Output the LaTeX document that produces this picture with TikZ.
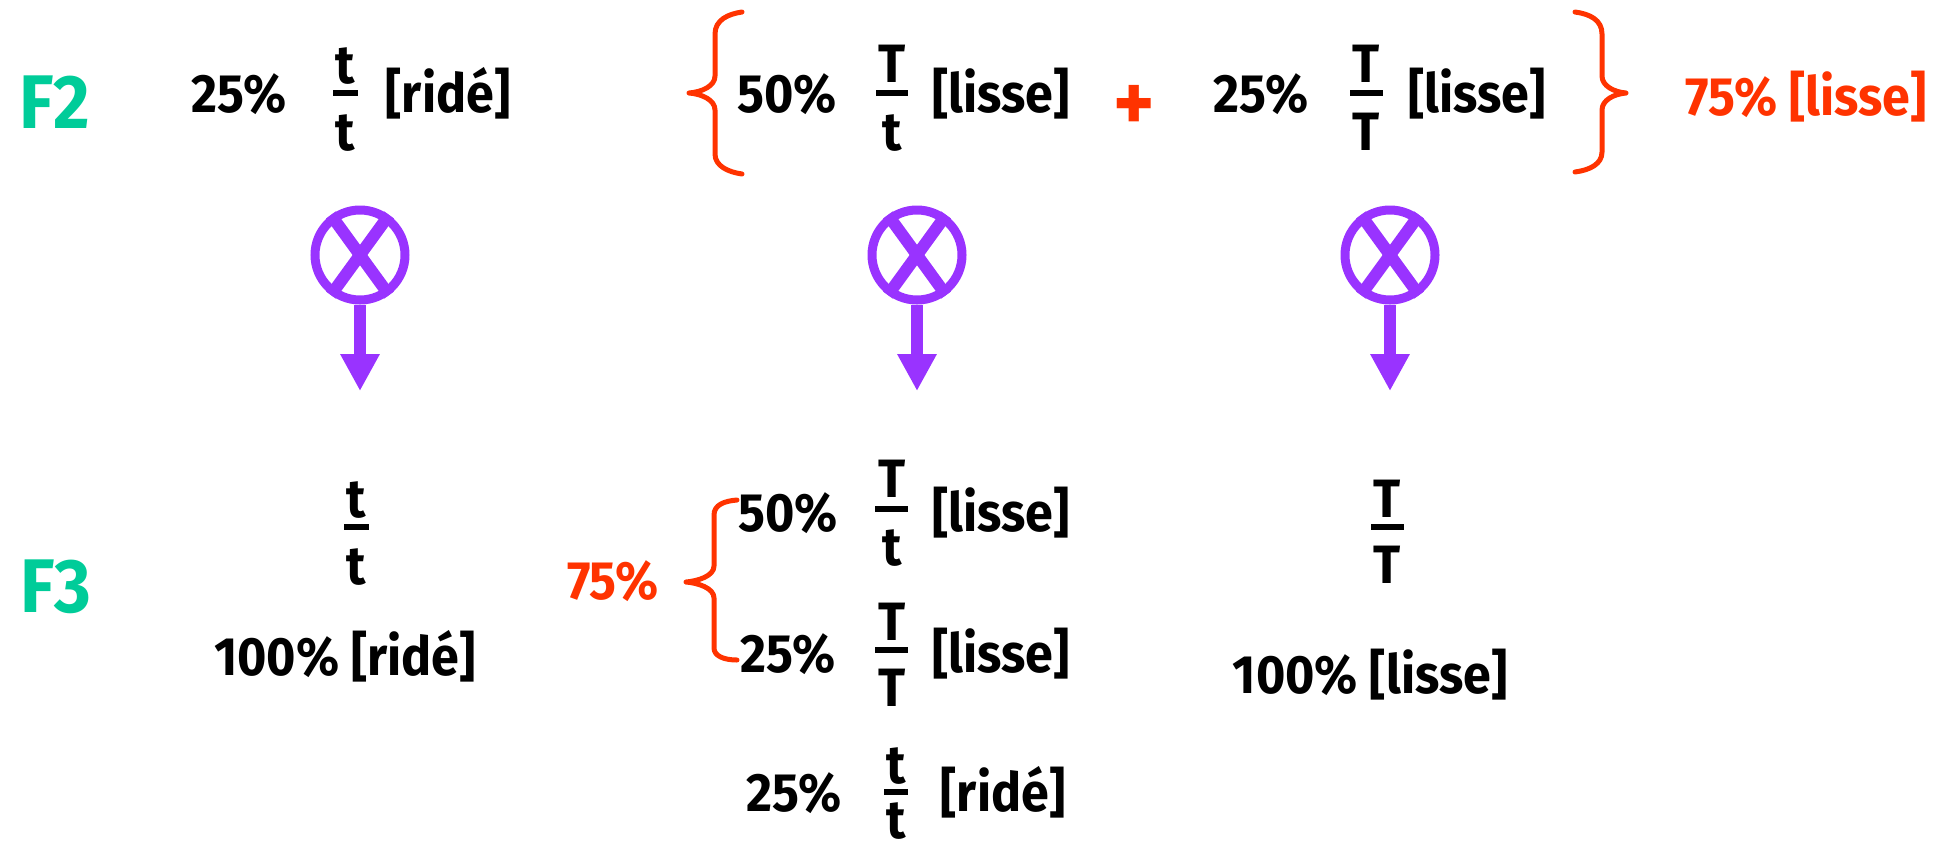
\documentclass[tikz,border=0pt]{standalone}
\usepackage{fontspec}
\setmainfont{Fira Sans}[FakeStretch=0.93]
\usetikzlibrary{arrows.meta}
\definecolor{genGreen}{HTML}{00CC99}
\definecolor{braceRed}{HTML}{FF3300}
\definecolor{crossPurple}{HTML}{9933FF}
\tikzset{
  txt/.style={font=\bfseries\fontsize{27}{30}\selectfont, inner sep=0pt, anchor=base, text=black},
  gen/.style={txt, font=\bfseries\fontsize{38}{42}\selectfont, text=genGreen},
  redtxt/.style={txt, text=braceRed},
  fracbar/.style={line width=3pt, black},
  bracepath/.style={draw=braceRed, line width=2.5pt, line cap=round, line join=round},
  crosscirc/.style={circle, draw=crossPurple, line width=4.5pt, minimum size=45pt, inner sep=0pt},
  crossline/.style={draw=crossPurple, line width=6pt},
  crossarrow/.style={draw=crossPurple, line width=6pt, -{Triangle[width=18.5pt,length=18.5pt]}, crossPurple}
}
\begin{document}
\begin{tikzpicture}[x=0.5pt,y=-0.5pt]
\useasboundingbox (0,0) rectangle (1948,848);

% ---------- F2 row ----------
\node[gen] (F2) at (55,128) {F2};

\node[txt] (p1) at (239,112) {25\%};
\node[txt] (a1t) at (345,83) {t};
\node[txt] (a1b) at (345,150) {t};
\coordinate (a1l) at (333,93); \coordinate (a1r) at (358,93);
\draw[fracbar] (a1l) -- (a1r);
\node[txt] (ph1) at (448,112) {[ridé]};

\node[txt] (p2) at (787,112) {50\%};
\node[txt] (a2t) at (892,82) {T};
\node[txt] (a2b) at (892,150) {t};
\coordinate (a2l) at (876,93); \coordinate (a2r) at (908,93);
\draw[fracbar] (a2l) -- (a2r);
\node[txt] (ph2) at (1001,112) {[lisse]};

\node[redtxt, anchor=center, font=\bfseries\fontsize{42}{46}\selectfont] (plus) at (1134,108) {+};

\node[txt] (p3) at (1261,112) {25\%};
\node[txt] (a3t) at (1366,82) {T};
\node[txt] (a3b) at (1366,150) {T};
\coordinate (a3l) at (1350,93); \coordinate (a3r) at (1383,93);
\draw[fracbar] (a3l) -- (a3r);
\node[txt] (ph3) at (1477,112) {[lisse]};

\node[redtxt] (tot2) at (1806,115) {75\% [lisse]};

% braces of F2 row
\draw[bracepath] (742,12) .. controls (728,14) and (715,20) .. (715,34) -- (715,76)
  .. controls (715,86) and (702,92) .. (689,93)
  .. controls (702,94) and (715,100) .. (715,110) -- (715,154)
  .. controls (715,166) and (728,172) .. (742,174);
\draw[bracepath] (1575,12) .. controls (1590,14) and (1602,20) .. (1602,34) -- (1602,76)
  .. controls (1602,86) and (1614,92) .. (1626,93)
  .. controls (1614,94) and (1602,100) .. (1602,110) -- (1602,152)
  .. controls (1602,164) and (1590,170) .. (1575,172);

% ---------- crosses ----------
\node[crosscirc] (x1) at (360,255) {};
\node[crosscirc] (x2) at (917,255) {};
\node[crosscirc] (x3) at (1390,255) {};
\foreach \n in {x1,x2,x3}{
  \draw[crossline] (\n.126) -- (\n.-54);
  \draw[crossline] (\n.54) -- (\n.234);
}
\coordinate (t1) at (360,391);
\coordinate (t2) at (917,391);
\coordinate (t3) at (1390,391);
\draw[crossarrow] (x1.south) -- (t1);
\draw[crossarrow] (x2.south) -- (t2);
\draw[crossarrow] (x3.south) -- (t3);

% ---------- F3 row ----------
\node[gen] (F3) at (56,612) {F3};

\node[txt] (b1t) at (356,517) {t};
\node[txt] (b1b) at (356,584) {t};
\coordinate (b1l) at (344,527); \coordinate (b1r) at (369,527);
\draw[fracbar] (b1l) -- (b1r);
\node[txt] (r1) at (345,675) {100\% [ridé]};

\node[redtxt] (tot3) at (613,599) {75\%};
\draw[bracepath] (737,500) .. controls (724,501) and (714,505) .. (714,515) -- (714,566)
  .. controls (714,576) and (698,581) .. (686,582)
  .. controls (698,583) and (714,588) .. (714,598) -- (714,648)
  .. controls (714,656) and (724,660) .. (737,660);

\node[txt] (q1) at (788,531) {50\%};
\node[txt] (c1t) at (892,497) {T};
\node[txt] (c1b) at (892,565) {t};
\coordinate (c1l) at (875,509); \coordinate (c1r) at (908,509);
\draw[fracbar] (c1l) -- (c1r);
\node[txt] (s1) at (1001,531) {[lisse]};

\node[txt] (q2) at (788,672) {25\%};
\node[txt] (c2t) at (892,640) {T};
\node[txt] (c2b) at (892,706) {T};
\coordinate (c2l) at (875,650); \coordinate (c2r) at (908,650);
\draw[fracbar] (c2l) -- (c2r);
\node[txt] (s2) at (1001,672) {[lisse]};

\node[txt] (q3) at (794,811) {25\%};
\node[txt] (c3t) at (896,783) {t};
\node[txt] (c3b) at (896,838) {t};
\coordinate (c3l) at (884,792); \coordinate (c3r) at (908,792);
\draw[fracbar] (c3l) -- (c3r);
\node[txt] (s3) at (1003,811) {[ridé]};

\node[txt] (d1t) at (1387,517) {T};
\node[txt] (d1b) at (1387,583) {T};
\coordinate (d1l) at (1371,527); \coordinate (d1r) at (1404,527);
\draw[fracbar] (d1l) -- (d1r);
\node[txt] (r3) at (1370,693) {100\% [lisse]};
\end{tikzpicture}
\end{document}
